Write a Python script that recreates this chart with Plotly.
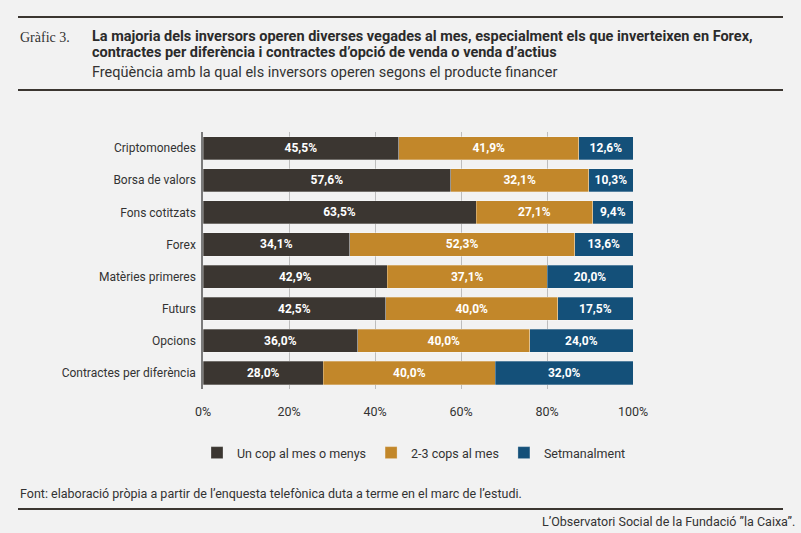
import plotly.graph_objects as go

# Categories (top to bottom) and values per frequency
productes = ["Criptomonedes", "Borsa de valors", "Fons cotitzats", "Forex",
             "Matèries primeres", "Futurs", "Opcions", "Contractes per diferència"]
un_cop = [45.5, 57.6, 63.5, 34.1, 42.9, 42.5, 36.0, 28.0]
dos_tres = [41.9, 32.1, 27.1, 52.3, 37.1, 40.0, 40.0, 40.0]
setmanal = [12.6, 10.3, 9.4, 13.6, 20.0, 17.5, 24.0, 32.0]

series = [("Un cop al mes o menys", un_cop, "#3b3631"),
          ("2-3 cops al mes", dos_tres, "#c2872a"),
          ("Setmanalment", setmanal, "#145079")]

W, H = 801, 533
L, R, T, B = 203, 633, 132, 389


def px(x):
    return (x - L) / (R - L)


def py(y):
    return (B - y) / (B - T)


fig = go.Figure()
for name, vals, col in series:
    fig.add_trace(go.Bar(
        y=productes, x=vals, name=name, orientation="h",
        marker=dict(color=col, line=dict(color="rgba(255,255,255,0.35)", width=0.8)),
        text=[f"{v:.1f}%".replace(".", ",") for v in vals],
        textposition="inside", insidetextanchor="middle",
        textfont=dict(color="white", size=12, family="Roboto"),
        texttemplate="<b>%{text}</b>",
        width=0.72,
    ))

fig.update_layout(
    barmode="stack",
    width=W, height=H, autosize=False,
    margin=dict(l=L, r=W - R, t=T, b=H - B),
    paper_bgcolor="#f2f2f2", plot_bgcolor="#f2f2f2",
    font=dict(family="Roboto", size=12, color="#333333"),
    showlegend=True,
    legend=dict(orientation="h", x=px(414), y=py(453), xanchor="center", yanchor="middle",
                font=dict(size=12.5, color="#333333"), traceorder="normal",
                itemwidth=30, bgcolor="rgba(0,0,0,0)"),
    uniformtext=dict(mode="show", minsize=10),
)

fig.update_xaxes(range=[0, 100], tickvals=[0, 20, 40, 60, 80, 100],
                 ticktext=["0%", "20%", "40%", "60%", "80%", "100%"],
                 showgrid=True, gridcolor="#bdbdbd", gridwidth=1,
                 zeroline=False, showline=False, ticks="", ticklabelstandoff=13,
                 tickfont=dict(size=12.5, color="#333333"), fixedrange=True)
fig.update_yaxes(autorange="reversed", showline=True, linecolor="#7a7a7a", linewidth=1.5,
                 ticks="", ticklabelstandoff=3, tickfont=dict(size=12, color="#333333"),
                 showgrid=False, fixedrange=True)

# Header and footer rules
for y0, w in [(17, 2), (90, 2), (509, 2)]:
    fig.add_shape(type="line", xref="paper", yref="paper",
                  x0=px(18), x1=px(783), y0=py(y0), y1=py(y0),
                  line=dict(color="#3b3631", width=w))

ann = [
    dict(x=px(18), y=py(37), text="Gràfic 3.", font=dict(family="Liberation Serif", size=14, color="#333333")),
    dict(x=px(90), y=py(36), text="<b>La majoria dels inversors operen diverses vegades al mes, especialment els que inverteixen en Forex,</b>",
         font=dict(family="Roboto", size=14.5, color="#2b2b2b")),
    dict(x=px(90), y=py(52), text="<b>contractes per diferència i contractes d’opció de venda o venda d’actius</b>",
         font=dict(family="Roboto", size=14.5, color="#2b2b2b")),
    dict(x=px(90), y=py(73), text="Freqüència amb la qual els inversors operen segons el producte financer",
         font=dict(family="Roboto", size=14.5, color="#333333")),
    dict(x=px(18), y=py(494), text="Font: elaboració pròpia a partir de l’enquesta telefònica duta a terme en el marc de l’estudi.",
         font=dict(family="Roboto", size=12.5, color="#333333")),
]
for a in ann:
    fig.add_annotation(xref="paper", yref="paper", xanchor="left", yanchor="middle",
                       showarrow=False, **a)
fig.add_annotation(xref="paper", yref="paper", x=px(797), y=py(521), xanchor="right", yanchor="middle",
                   showarrow=False, text="L’Observatori Social de la Fundació ”la Caixa”.",
                   font=dict(family="Roboto", size=12.5, color="#333333"))

# drop the default page margin so the figure sits at the window's corner
fig.write_html("out.html", config={"displayModeBar": False},
               post_script="document.body.style.margin='0';")
